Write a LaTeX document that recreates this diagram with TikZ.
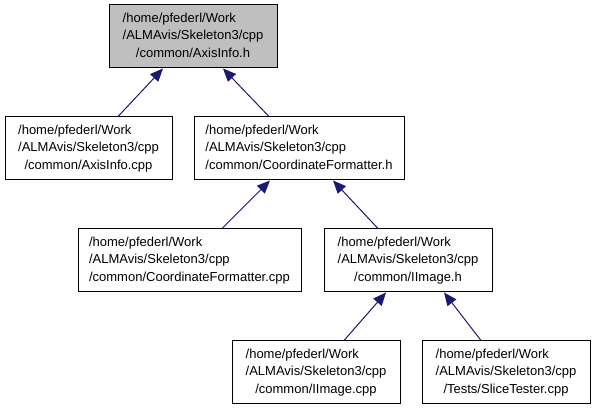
\documentclass[tikz,border=0pt]{standalone}
\usepackage{fontspec}
\setmainfont{Liberation Sans}
\usetikzlibrary{arrows.meta}
\definecolor{edgeblue}{HTML}{191970}
\definecolor{graybox}{HTML}{BFBFBF}
\newcommand{\lbl}[3]{\begin{tabular}{@{}l@{}}#1\\#2\\\multicolumn{1}{@{}c@{}}{#3}\end{tabular}}
\begin{document}
\begin{tikzpicture}[x=1pt,y=-1pt,
  box/.style={draw=black,line width=1pt,fill=white,rectangle,inner sep=0pt,
    minimum height=63pt,font=\fontsize{13}{17.5}\selectfont},
  dep/.style={draw=edgeblue,line width=1pt,-{Triangle[length=13pt,width=11pt]},shorten >=0pt}]
\useasboundingbox (0,0) rectangle (592,411);
\fill[white] (0,0) rectangle (592,411);
\node[box,fill=graybox,minimum width=168pt] (n1) at (193,36.5) {\lbl{/home/pfederl/Work}{/ALMAvis/Skeleton3/cpp}{/common/AxisInfo.h}};
\node[box,minimum width=167pt] (n2) at (88.5,148.5) {\lbl{/home/pfederl/Work}{/ALMAvis/Skeleton3/cpp}{/common/AxisInfo.cpp}};
\node[box,minimum width=210pt] (n3) at (299,148.5) {\lbl{/home/pfederl/Work}{/ALMAvis/Skeleton3/cpp}{/common/CoordinateFormatter.h}};
\node[box,minimum width=223pt] (n4) at (189.5,260.5) {\lbl{/home/pfederl/Work}{/ALMAvis/Skeleton3/cpp}{/common/CoordinateFormatter.cpp}};
\node[box,minimum width=168pt] (n5) at (408,260.5) {\lbl{/home/pfederl/Work}{/ALMAvis/Skeleton3/cpp}{/common/IImage.h}};
\node[box,minimum width=168pt] (n6) at (316,372.5) {\lbl{/home/pfederl/Work}{/ALMAvis/Skeleton3/cpp}{/common/IImage.cpp}};
\node[box,minimum width=168pt] (n7) at (506,372.5) {\lbl{/home/pfederl/Work}{/ALMAvis/Skeleton3/cpp}{/Tests/SliceTester.cpp}};
\draw[dep] ([xshift=29.5pt]n2.north) -- ([xshift=-30pt]n1.south);
\draw[dep] ([xshift=-30pt]n3.north) -- ([xshift=30pt]n1.south);
\draw[dep] ([xshift=32.5pt]n4.north) -- ([xshift=-29pt]n3.south);
\draw[dep] ([xshift=-30pt]n5.north) -- ([xshift=34pt]n3.south);
\draw[dep] ([xshift=28pt]n6.north) -- ([xshift=-22pt]n5.south);
\draw[dep] ([xshift=-25pt]n7.north) -- ([xshift=36pt]n5.south);
\end{tikzpicture}
\end{document}
